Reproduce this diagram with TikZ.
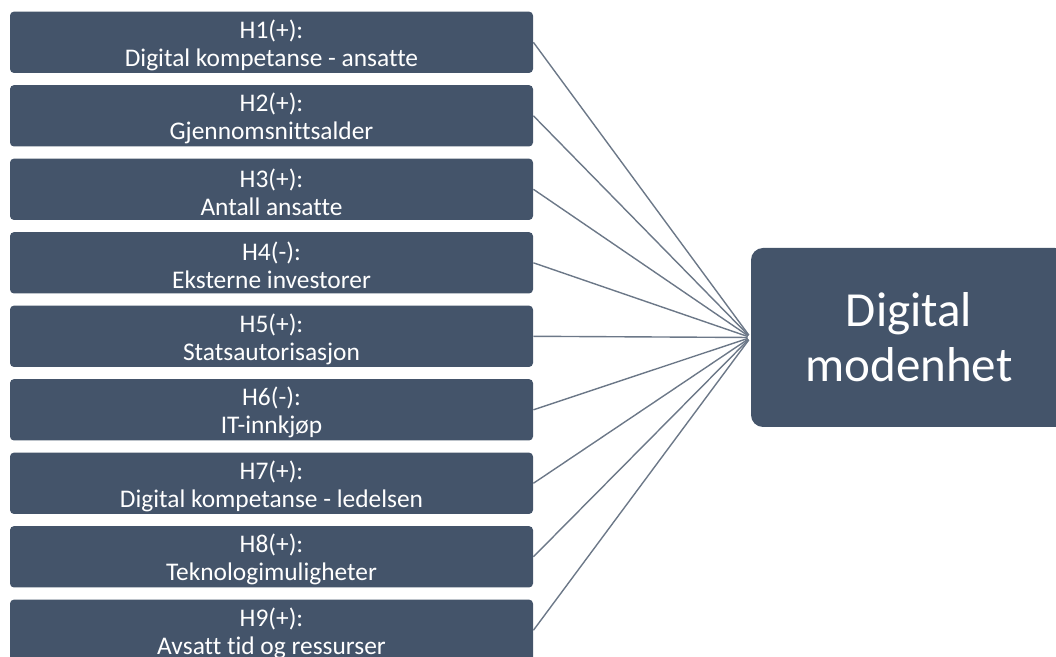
\documentclass[tikz,border=0pt]{standalone}
\usepackage{fontspec}
\setmainfont{Carlito}[Ligatures=NoCommon]
\definecolor{boxblue}{HTML}{44546A}
\definecolor{linkgray}{RGB}{108,120,136}
\tikzset{
  hypbox/.style={fill=boxblue, rounded corners=2pt, inner sep=0pt,
    minimum width=261.5pt, minimum height=30.7pt},
  hyptext/.style={text=white, inner sep=0pt, align=center,
    font=\fontsize{12.7}{14}\selectfont},
  mainbox/.style={fill=boxblue, text=white, rounded corners=6pt, inner sep=0pt,
    minimum width=158pt, minimum height=89.5pt, align=center,
    font=\fontsize{24.5}{27.5}\selectfont},
  link/.style={draw=linkgray, line width=0.7pt, shorten >=1.5pt}
}
\begin{document}
\begin{tikzpicture}[x=0.5pt, y=-0.5pt]
    \useasboundingbox (0, 0) rectangle (1056, 657);

    \node[mainbox] (dm) at (909, 337.5) {Digital\\modenhet};

    \foreach \i/\txt in {1/{H1(+):\\Digital kompetanse - ansatte},
                         2/{H2(+):\\Gjennomsnittsalder},
                         3/{H3(+):\\Antall ansatte},
                         4/{H4(-):\\Eksterne investorer},
                         5/{H5(+):\\Statsautorisasjon},
                         6/{H6(-):\\IT-innkjøp},
                         7/{H7(+):\\Digital kompetanse - ledelsen},
                         8/{H8(+):\\Teknologimuligheter},
                         9/{H9(+):\\Avsatt tid og ressurser}} {
      \node[hypbox] (h\i) at (271.5, {42.3 + 73.5*(\i-1)}) {};
      \node[hyptext] (t\i) at ([yshift=-1.5pt]h\i.center) {\txt};
      \draw[link] (h\i.east) -- (dm.west);
    }
  \end{tikzpicture}
\end{document}
